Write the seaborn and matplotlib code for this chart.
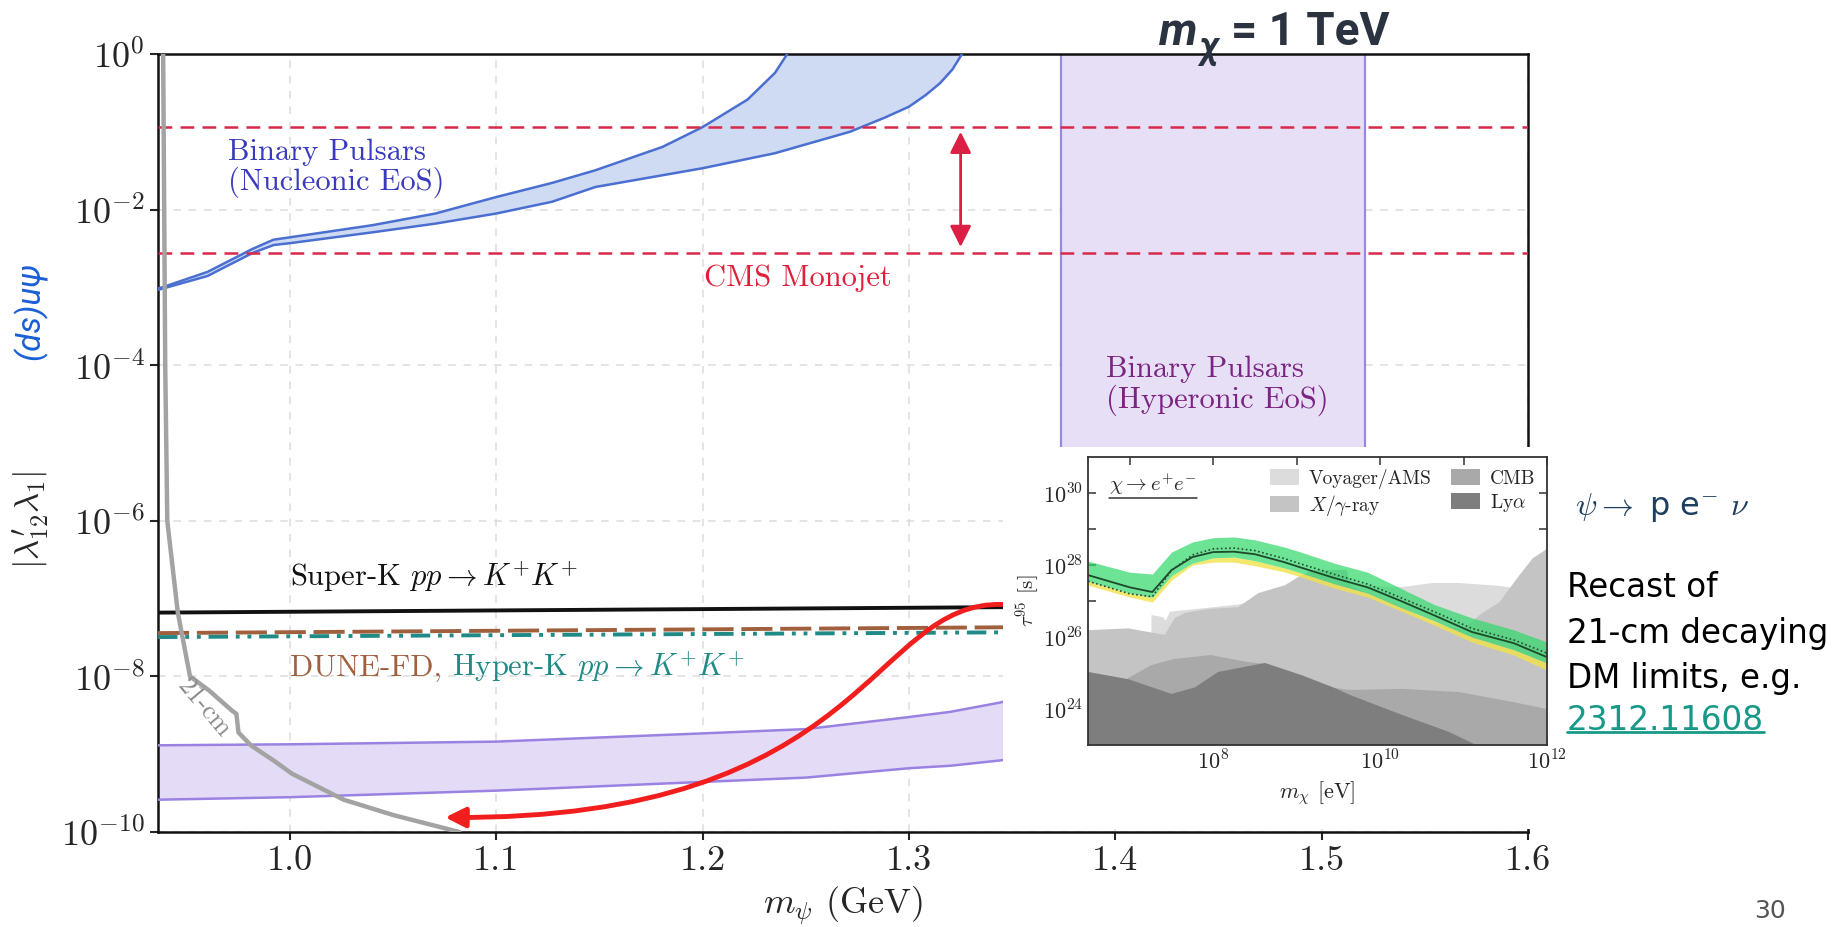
import numpy as np
import matplotlib
matplotlib.use('Agg')
import matplotlib.pyplot as plt
import seaborn as sns
from matplotlib.patches import Rectangle, Patch, FancyArrowPatch
from matplotlib.path import Path
from matplotlib.lines import Line2D
from matplotlib.offsetbox import TextArea, HPacker, AnnotationBbox

sns.set_style('ticks')
plt.rcParams['font.family'] = ['cmr10', 'DejaVu Serif']
plt.rcParams['mathtext.fontset'] = 'cm'
plt.rcParams['axes.formatter.use_mathtext'] = True
plt.rcParams['axes.unicode_minus'] = False

# ---- main panel data (m_psi in GeV, coupling) ----
x_lim = [0.936, 1.6]
x_ticks = [1.0, 1.1, 1.2, 1.3, 1.4, 1.5, 1.6]
x_tick_labels = ['1.0', '1.1', '1.2', '1.3', '1.4', '1.5', '1.6']
y_ticks = [1e0, 1e-2, 1e-4, 1e-6, 1e-8, 1e-10]

# binary pulsars, nucleonic EoS band
nuc_up_x = [0.936, 0.938, 0.960, 0.9816, 0.992, 1.0, 1.040, 1.0705, 1.1, 1.127, 1.148, 1.1806, 1.2, 1.2218, 1.235, 1.241]
nuc_up_y = [0.97e-3, 1.0e-3, 1.58e-3, 3.1e-3, 4.1e-3, 4.4e-3, 6.3e-3, 8.9e-3, 1.45e-2, 2.2e-2, 3.2e-2, 6.4e-2, 0.115, 0.26, 0.57, 1.0]
nuc_lo_x = [0.936, 0.938, 0.960, 0.9816, 0.992, 1.0, 1.040, 1.0705, 1.1, 1.127, 1.148, 1.2, 1.235, 1.2714, 1.288, 1.300, 1.308, 1.315, 1.321, 1.3257]
nuc_lo_y = [0.93e-3, 0.96e-3, 1.4e-3, 2.75e-3, 3.5e-3, 3.7e-3, 5.1e-3, 6.6e-3, 8.9e-3, 1.26e-2, 1.95e-2, 3.4e-2, 5.3e-2, 0.1, 0.151, 0.21, 0.295, 0.42, 0.63, 1.0]

# CMS monojet range
cms_levels = [0.115, 2.8e-3]
cms_arrow_x = 1.325
cms_arrow_y = [0.10, 3.3e-3]

# binary pulsars, hyperonic EoS (vertical band)
hyp_x = [1.3738, 1.5209]

# lower purple band
low_x = [0.936, 1.0, 1.1, 1.2, 1.25, 1.3, 1.32, 1.344, 1.36]
low_up = [1.3e-9, 1.34e-9, 1.45e-9, 1.85e-9, 2.1e-9, 3.0e-9, 3.5e-9, 4.6e-9, 6.0e-9]
low_lo = [2.6e-10, 2.8e-10, 3.4e-10, 4.4e-10, 5.0e-10, 6.6e-10, 7.1e-10, 8.3e-10, 9.5e-10]

# proton decay style limits
line_x = [0.936, 1.36]
superk_y = [6.6e-8, 7.8e-8]
dune_y = [3.6e-8, 4.3e-8]
hyperk_y = [3.2e-8, 3.7e-8]

# 21-cm curve
cm21_x = [0.9385, 0.9390, 0.9395, 0.9405, 0.9456, 0.9515, 0.9607, 0.972, 0.974, 0.975, 0.981, 0.992, 1.001, 1.026, 1.05, 1.082]
cm21_y = [1.0, 1e-2, 1e-4, 1e-6, 6.6e-8, 1e-8, 6.6e-9, 3.6e-9, 3.3e-9, 1.9e-9, 1.3e-9, 8.3e-10, 5.6e-10, 2.6e-10, 1.65e-10, 1.0e-10]

# red curved arrow (bezier control points)
arrow_x = [1.3456, 1.2811, 1.2811, 1.0752]
arrow_y = [8.4e-8, 9.5e-8, 1.4e-10, 1.54e-10]

# ---- inset data (log10 m_chi [eV], log10 tau [s]) ----
band_x = [6.5, 7.0, 7.27, 7.5, 7.75, 8.0, 8.25, 8.5, 8.85, 9.05, 9.45, 9.85, 10.25, 10.65, 11.1, 11.6, 12.0]
band_line = [27.72, 27.38, 27.25, 27.86, 28.22, 28.36, 28.37, 28.30, 28.08, 27.93, 27.64, 27.38, 27.0, 26.6, 26.14, 25.83, 25.44]
band_dot = [27.55, 27.2, 27.12, 27.85, 28.28, 28.45, 28.47, 28.4, 28.18, 28.03, 27.74, 27.47, 27.09, 26.7, 26.24, 25.92, 25.55]
green_up = [28.11, 27.8, 27.75, 28.36, 28.64, 28.76, 28.78, 28.7, 28.5, 28.36, 28.05, 27.8, 27.35, 26.9, 26.53, 26.2, 25.86]
green_lo = [27.55, 27.22, 27.1, 27.7, 28.05, 28.2, 28.22, 28.12, 27.92, 27.78, 27.48, 27.22, 26.82, 26.45, 26.0, 25.65, 25.28]
yellow_lo = [27.44, 27.11, 26.97, 27.58, 28.0, 28.08, 28.08, 27.98, 27.81, 27.67, 27.36, 27.11, 26.72, 26.33, 25.86, 25.5, 25.08]

voy_x = [7.26, 7.40, 7.43, 7.48, 7.55, 8.3, 9.0, 9.6, 10.0, 10.27, 10.63, 10.95, 11.43, 11.59, 12.0]
voy_top = [26.61, 26.55, 26.45, 26.7, 26.72, 26.9, 27.3, 27.5, 27.4, 27.39, 27.5, 27.5, 27.42, 27.36, 27.2]
xray_x = [6.5, 6.98, 7.42, 7.54, 7.66, 7.94, 8.30, 8.54, 8.86, 9.02, 9.2, 9.6, 9.65, 10.2, 10.6, 11.0, 11.19, 11.43, 11.67, 11.83, 12.0]
xray_top = [26.19, 26.24, 26.06, 26.53, 26.67, 26.78, 26.83, 27.22, 27.44, 27.67, 27.86, 27.86, 27.4, 26.9, 26.4, 26.2, 26.61, 26.97, 27.72, 28.19, 28.45]
cmb_x = [6.98, 7.26, 7.53, 7.97, 8.4, 8.62, 9.0, 9.4, 9.64, 10.27, 10.95, 11.6, 12.0]
cmb_top = [24.86, 25.22, 25.39, 25.5, 25.31, 25.25, 24.85, 24.6, 24.53, 24.56, 24.47, 24.19, 24.0]
lya_x = [6.5, 6.98, 7.5, 7.78, 8.06, 8.62, 9.06, 9.46, 9.64, 10.27, 10.83, 11.15]
lya_top = [25.03, 24.83, 24.42, 24.6, 25.03, 25.28, 24.94, 24.58, 24.39, 23.83, 23.36, 23.0]

inset_x_ticks = [1e7, 1e8, 1e9, 1e10, 1e11, 1e12]
inset_x_labels = ['', r'$10^{8}$', '', r'$10^{10}$', '', r'$10^{12}$']
inset_y_ticks = [1e24, 1e25, 1e26, 1e27, 1e28, 1e29, 1e30]
inset_y_labels = [r'$10^{24}$', '', r'$10^{26}$', '', r'$10^{28}$', '', r'$10^{30}$']
legend_labels = ['Voyager/AMS', r'$X/\gamma$-ray', 'CMB', r'Ly$\alpha$']
legend_colors = ['#dcdcdc', '#c4c4c4', '#a9a9a9', '#7e7e7e']

recast_lines = ['Recast of', '21-cm decaying', 'DM limits, e.g.']
recast_link = '2312.11608'

# ---- figure ----
fig = plt.figure(figsize=(18.33, 9.27), dpi=100)
ax = fig.add_axes([0.0862, 0.1025, 0.7474, 0.8393])
ax.set_yscale('log')
ax.set_xlim(x_lim)
ax.set_ylim(1e-10, 1)
ax.set_axisbelow(True)
ax.grid(True, color='#dcdcdc', linestyle=(0, (5, 5)), linewidth=1.1)

# lower part of this band sits under the pasted inset
ax.axvspan(hyp_x[0], hyp_x[1], ymin=0.45, facecolor='#e7dff6', edgecolor='#9c86e4', lw=1.6, zorder=1)

# nucleonic band
ax.fill(np.concatenate([nuc_up_x, nuc_lo_x[::-1]]), np.concatenate([nuc_up_y, nuc_lo_y[::-1]]),
        facecolor='#cfdbf3', edgecolor='none', zorder=2)
sns.lineplot(x=nuc_up_x, y=nuc_up_y, ax=ax, color='#4a6fd0', lw=1.8, estimator=None, sort=False, zorder=3)
sns.lineplot(x=nuc_lo_x, y=nuc_lo_y, ax=ax, color='#4a6fd0', lw=1.8, estimator=None, sort=False, zorder=3)

# CMS monojet
for lvl in cms_levels:
    ax.axhline(lvl, color='#d8294a', lw=1.8, linestyle=(0, (5.5, 3.3)), zorder=3)
ax.annotate('', xy=(cms_arrow_x, cms_arrow_y[1]), xytext=(cms_arrow_x, cms_arrow_y[0]),
            arrowprops=dict(arrowstyle='<|-|>', color='#dc1f45', lw=2, mutation_scale=32,
                            shrinkA=0, shrinkB=0), zorder=4)

# lower purple band
ax.fill_between(low_x, low_lo, low_up, facecolor='#e4dcf6', edgecolor='none', zorder=2)
sns.lineplot(x=low_x, y=low_up, ax=ax, color='#9a82e2', lw=1.8, estimator=None, zorder=3)
sns.lineplot(x=low_x, y=low_lo, ax=ax, color='#9a82e2', lw=1.8, estimator=None, zorder=3)

# proton decay limits
sns.lineplot(x=line_x, y=superk_y, ax=ax, color='#111111', lw=2.8, estimator=None, zorder=3)
ax.plot(line_x, dune_y, color='#a0603e', lw=2.8, linestyle=(0, (8, 2)), zorder=3)
ax.plot(line_x, hyperk_y, color='#1f8a86', lw=2.8, linestyle=(0, (5, 2, 1, 2, 1, 2)), zorder=3)

# 21-cm
sns.lineplot(x=cm21_x, y=cm21_y, ax=ax, color='#a3a3a3', lw=3.2, estimator=None, sort=False, zorder=3)
ax.text(0.9585, 3.9e-9, '21-cm', rotation=-50, ha='center', va='center', color='#8a8a8a', fontsize=19, zorder=4)

# red arrow
arrow_path = Path(list(zip(arrow_x, arrow_y)), [Path.MOVETO, Path.CURVE4, Path.CURVE4, Path.CURVE4])
ax.add_patch(FancyArrowPatch(path=arrow_path, arrowstyle='-|>', mutation_scale=30, color='#f21d1d',
                             lw=3.5, transform=ax.transData, zorder=5, clip_on=False))

# labels in main axes
ax.text(0.970, 0.034, 'Binary Pulsars\n(Nucleonic EoS)', color='#3a3ac0', fontsize=22,
        ha='left', va='center', linespacing=1.05)
ax.text(1.2005, 1.3e-3, 'CMS Monojet', color='#e0203a', fontsize=22, ha='left', va='center')
ax.text(1.3956, 5.4e-5, 'Binary Pulsars\n(Hyperonic EoS)', color='#7b2482', fontsize=22,
        ha='left', va='center', linespacing=1.05)
ax.text(1.0, 1.9e-7, r'Super-K $pp \rightarrow K^{+}K^{+}$', color='#111111', fontsize=22, ha='left', va='center')
dune_box = HPacker(children=[TextArea('DUNE-FD,', textprops=dict(color='#a0603e', fontsize=22)),
                             TextArea(r'Hyper-K $pp \rightarrow K^{+}K^{+}$', textprops=dict(color='#1f8a86', fontsize=22))],
                   align='baseline', pad=0, sep=7)
ax.add_artist(AnnotationBbox(dune_box, (1.0, 1.35e-8), xycoords='data', box_alignment=(0, 0.5),
                             frameon=False, pad=0))

ax.set_xticks(x_ticks, x_tick_labels)
ax.set_yticks(y_ticks)
ax.minorticks_off()
ax.tick_params(labelsize=26, length=6, width=1.5, direction='out')
for s in ax.spines.values():
    s.set_linewidth(1.8)
    s.set_color('#111111')
ax.set_xlabel(r'$m_\psi$ (GeV)', fontsize=26, labelpad=6)

fig.text(0.0165, 0.439, r"$|\lambda^{\prime}_{12}\lambda_1|$", rotation=90, fontsize=25, ha='center', va='center')
fig.text(0.0165, 0.664, '(ds)uψ', rotation=90, fontsize=24, ha='center', va='center', color='#1a5fd6',
         style='italic', family=['Roboto', 'DejaVu Sans'])

# white pasted area for the inset picture
fig.add_artist(Rectangle((0.547, 0.1058), 0.303, 0.4118, transform=fig.transFigure,
                         facecolor='white', edgecolor='none', zorder=1))

# ---- inset ----
ax2 = fig.add_axes([0.5936, 0.1963, 0.2504, 0.3107])
ax2.set_zorder(2)
ax2.set_xscale('log')
ax2.set_yscale('log')
ax2.set_xlim(10 ** 6.5, 1e12)
ax2.set_ylim(1e23, 1e31)
ax2.grid(False)
for xs, ys, col in [(voy_x, voy_top, legend_colors[0]), (xray_x, xray_top, legend_colors[1]),
                    (cmb_x, cmb_top, legend_colors[2]), (lya_x, lya_top, legend_colors[3])]:
    ax2.fill_between(10.0 ** np.array(xs), 1e23, 10.0 ** np.array(ys), facecolor=col, edgecolor='none', lw=0)
bx = 10.0 ** np.array(band_x)
ax2.fill_between(bx, 10.0 ** np.array(yellow_lo), 10.0 ** np.array(green_lo), facecolor='#f2e24a', alpha=0.8, lw=0)
ax2.fill_between(bx, 10.0 ** np.array(green_lo), 10.0 ** np.array(green_up), facecolor='#2fd86a', alpha=0.7, lw=0)
sns.lineplot(x=bx, y=10.0 ** np.array(band_line), ax=ax2, color='#1d4a2a', lw=1.3, estimator=None)
ax2.plot(bx, 10.0 ** np.array(band_dot), color='#2a4a32', lw=1.2, linestyle=(0, (1, 1.5)))

ax2.set_xticks(inset_x_ticks, inset_x_labels)
ax2.set_yticks(inset_y_ticks, inset_y_labels)
ax2.minorticks_off()
ax2.tick_params(which='both', direction='in', top=True, right=True, length=6, width=1.1,
                labelsize=16, color='#333333')
for s in ax2.spines.values():
    s.set_linewidth(1.3)
    s.set_color('#333333')
ax2.set_xlabel(r'$m_\chi$ [eV]', fontsize=16, labelpad=4)
ax2.set_ylabel(r'$\tau^{95}$ [s]', fontsize=15, labelpad=1)
handles = [Patch(facecolor=c, edgecolor='none', label=l) for c, l in zip(legend_colors, legend_labels)]
ax2.legend(handles=handles, ncol=2, loc='upper right', frameon=False, fontsize=14,
           handlelength=1.5, handleheight=0.9, handletextpad=0.5, columnspacing=1.0,
           labelspacing=0.2, borderaxespad=0.2)
chi_txt = ax2.text(0.045, 0.905, r'$\chi \rightarrow e^{+}e^{-}$', transform=ax2.transAxes,
                   fontsize=15, ha='left', va='center')

# ---- slide texts ----
fig.text(0.6325, 0.9515, 'm', fontsize=33, fontweight='bold', style='italic', color='#2b3240',
         family=['Roboto', 'DejaVu Sans'], va='baseline', ha='left')
fig.text(0.654, 0.938, 'χ', fontsize=26, fontweight='bold', style='italic', color='#2b3240',
         family=['Roboto', 'DejaVu Sans'], va='baseline', ha='left')
fig.text(0.6715, 0.9515, '= 1 TeV', fontsize=33, fontweight='bold', color='#2b3240',
         family=['Roboto', 'DejaVu Sans'], va='baseline', ha='left')

fig.text(0.8593, 0.4445, r'$\psi \rightarrow$ p e$^{-}$ $\nu$', fontsize=23, color='#1c3f5f',
         family=['DejaVu Sans'], va='baseline', ha='left')
recast_y = [0.3560, 0.3064, 0.2578]
for line, yy in zip(recast_lines, recast_y):
    fig.text(0.8547, yy, line, fontsize=23.5, color='black', family=['DejaVu Sans'], va='baseline', ha='left')
link_txt = fig.text(0.8547, 0.2125, recast_link, fontsize=23.5, color='#17998a', family=['DejaVu Sans'],
                    va='baseline', ha='left')
fig.text(0.9655, 0.004, '30', fontsize=18, color='#555555', family=['DejaVu Sans'], va='bottom', ha='center')

# underlines
fig.canvas.draw()
renderer = fig.canvas.get_renderer()
inv = fig.transFigure.inverted()
bb = link_txt.get_window_extent(renderer)
(x0, y0), (x1, _) = inv.transform([(bb.x0, bb.y0 + 5), (bb.x1, bb.y0)])
fig.add_artist(Line2D([x0, x1], [y0, y0], color='#17998a', lw=2, transform=fig.transFigure))
bb = chi_txt.get_window_extent(renderer)
inv2 = ax2.transAxes.inverted()
(x0, y0), (x1, _) = inv2.transform([(bb.x0, bb.y0 - 1), (bb.x1, bb.y0)])
ax2.add_line(Line2D([x0, x1], [y0, y0], color='#333333', lw=1.1, transform=ax2.transAxes))

fig.savefig('out.png', dpi=100)
